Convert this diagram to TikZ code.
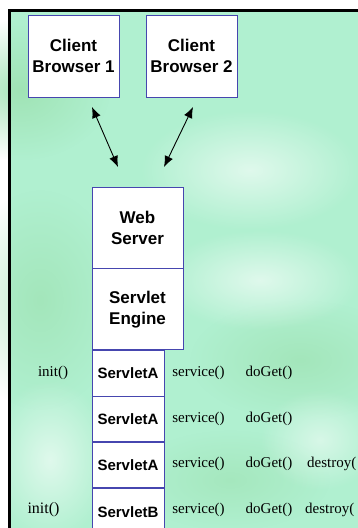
\documentclass[tikz,border=0pt]{standalone}
\usepackage{fontspec}
\setmainfont{Liberation Serif}
\newfontfamily\arialfont{Liberation Sans}
\usetikzlibrary{arrows.meta,fadings}
\definecolor{mint}{RGB}{176,240,208}
\definecolor{leaf}{RGB}{158,226,178}
\definecolor{boxline}{RGB}{70,70,175}
\tikzfading[name=softspot, inner color=transparent!0, outer color=transparent!100]
\tikzset{
  box/.style={draw=boxline, line width=0.8pt, fill=white, inner sep=0pt, align=center,
              font=\arialfont\bfseries\fontsize{17}{21}\selectfont},
  servbox/.style={box, minimum width=72pt, font=\arialfont\bfseries\fontsize{15}{18}\selectfont},
  call/.style={inner sep=0pt, font=\fontsize{15}{18}\selectfont},
  link/.style={line width=0.9pt, {Latex[length=11pt,width=9pt]}-{Latex[length=11pt,width=9pt]}},
  blob/.style={path fading=softspot}
}
\begin{document}
\begin{tikzpicture}[x=1pt,y=-1pt]
  \useasboundingbox (0,0) rectangle (358,528);
  \clip (0,0) rectangle (358,528);
  % slide background
  \fill[white] (0,0) rectangle (358,528);
  \fill[mint] (9,10) rectangle (358,528);
  \fill[leaf, blob, fill opacity=0.9] (20,90) ellipse (90 and 70);
  \fill[leaf, blob, fill opacity=0.7] (40,300) ellipse (80 and 110);
  \fill[leaf, blob, fill opacity=0.7] (300,360) ellipse (110 and 60);
  \fill[leaf, blob, fill opacity=0.6] (230,480) ellipse (100 and 50);
  \fill[white, blob, fill opacity=0.6] (250,170) ellipse (110 and 60);
  \fill[white, blob, fill opacity=0.6] (260,280) ellipse (100 and 50);
  \fill[white, blob, fill opacity=0.6] (50,460) ellipse (60 and 80);
  \fill[white, blob, fill opacity=0.5] (320,440) ellipse (60 and 50);
  \draw[line width=3pt] (9.5,540) -- (9.5,10.5) -- (360,10.5);

  % clients
  \node[box, minimum width=91pt, minimum height=82pt] (cb1) at (73.5,56) {Client\\Browser 1};
  \node[box, minimum width=91pt, minimum height=82pt] (cb2) at (191.5,56) {Client\\Browser 2};

  % server stack
  \node[box, minimum width=91pt, minimum height=81pt] (web) at (137.5,227.5) {Web\\Server};
  \node[box, minimum width=91pt, minimum height=81pt, anchor=north] (eng) at (web.south) {Servlet\\Engine};

  % servlet instances
  \node[servbox, minimum height=46pt] (s1) at (128,373) {ServletA};
  \node[servbox, minimum height=45pt, anchor=north] (s2) at (s1.south) {ServletA};
  \node[servbox, minimum height=45pt, anchor=north] (s3) at (s2.south) {ServletA};
  \node[servbox, minimum height=48pt, anchor=north] (s4) at (s3.south) {ServletB};

  % request links
  \coordinate (a1) at (92,107);
  \coordinate (b1) at (118,167);
  \coordinate (a2) at (193,107);
  \coordinate (b2) at (164,167);
  \draw[link] (a1) -- (b1);
  \draw[link] (a2) -- (b2);

  % life-cycle calls
  \node[call] (i1) at (53,373) {init()};
  \node[call] (sv1) at (198.5,373) {service()};
  \node[call] (g1) at (269,373) {doGet()};

  \node[call] (sv2) at (198.5,419) {service()};
  \node[call] (g2) at (269,419) {doGet()};

  \node[call] (sv3) at (198.5,464) {service()};
  \node[call] (g3) at (269,464) {doGet()};
  \node[call, anchor=west] (d3) at (307,464) {destroy(};

  \node[call, font=\fontsize{16}{18}\selectfont] (i4) at (43.5,510) {init()};
  \node[call] (sv4) at (198.5,510) {service()};
  \node[call] (g4) at (269,510) {doGet()};
  \node[call, anchor=west] (d4) at (305,510) {destroy(};
\end{tikzpicture}
\end{document}
